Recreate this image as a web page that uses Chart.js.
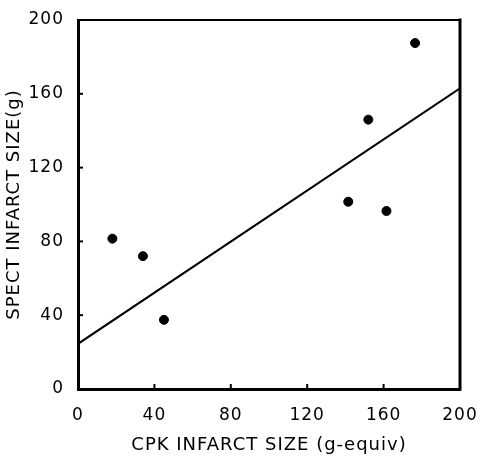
<!DOCTYPE html>
<html>
<head>
<meta charset="utf-8">
<script src="https://cdn.jsdelivr.net/npm/chart.js@4/dist/chart.umd.min.js"></script>
<style>
  html, body { margin: 0; padding: 0; background: #fff; }
  #wrap { width: 480px; height: 457px; position: relative; }
</style>
</head>
<body>
<div id="wrap"><canvas id="c"></canvas></div>
<script>
// Data
const cpkSize   = [18, 34, 45, 141.5, 152, 161.5, 176.5];
const spectSize = [81.5, 72, 37.5, 101.5, 146, 96.5, 187.5];
const fitX = [0, 200];
const fitY = [24.5, 163];
const tickValues = [0, 40, 80, 120, 160, 200];
const xTitle = 'CPK INFARCT SIZE (g-equiv)';
const yTitle = 'SPECT INFARCT SIZE(g)';

const points = cpkSize.map((x, i) => ({ x: x, y: spectSize[i] }));
const fitLine = fitX.map((x, i) => ({ x: x, y: fitY[i] }));

const TICK_FONT = { family: "'DejaVu Sans', sans-serif", size: 17 };
const TITLE_FONT = { family: "'DejaVu Sans', sans-serif", size: 18 };

const spacingPlugin = {
  id: 'spacing',
  beforeLayout(chart) { chart.ctx.letterSpacing = '1px'; },
  beforeDraw(chart) { chart.ctx.letterSpacing = '1px'; }
};

const framePlugin = {
  id: 'frame',
  afterDatasetsDraw(chart) {
    const { ctx, chartArea: a, scales } = chart;
    ctx.save();
    ctx.strokeStyle = '#000';
    ctx.lineCap = 'square';
    ctx.lineWidth = 2;
    ctx.beginPath();
    ctx.moveTo(a.left, a.top);
    ctx.lineTo(a.right, a.top);
    ctx.stroke();
    ctx.lineWidth = 3;
    ctx.beginPath();
    ctx.moveTo(a.right, a.top);
    ctx.lineTo(a.right, a.bottom);
    ctx.stroke();
    ctx.lineWidth = 2;
    ctx.lineCap = 'butt';
    tickValues.slice(1, -1).forEach(v => {
      const px = scales.x.getPixelForValue(v);
      ctx.beginPath();
      ctx.moveTo(px, a.bottom);
      ctx.lineTo(px, a.bottom - 5);
      ctx.stroke();
      const py = scales.y.getPixelForValue(v);
      ctx.beginPath();
      ctx.moveTo(a.left, py);
      ctx.lineTo(a.left + 5, py);
      ctx.stroke();
    });
    ctx.restore();
  }
};

new Chart(document.getElementById('c'), {
  type: 'scatter',
  data: {
    datasets: [
      {
        label: 'patients',
        data: points,
        backgroundColor: '#000',
        borderColor: '#000',
        pointRadius: 4.5,
        pointHoverRadius: 4.5
      },
      {
        label: 'regression',
        data: fitLine,
        showLine: true,
        borderColor: '#000',
        borderWidth: 2,
        pointRadius: 0,
        fill: false
      }
    ]
  },
  plugins: [spacingPlugin, framePlugin],
  options: {
    responsive: true,
    maintainAspectRatio: false,
    animation: false,
    devicePixelRatio: 1,
    layout: { padding: { left: 0, top: 20, right: 20, bottom: 0 } },
    plugins: { legend: { display: false }, tooltip: { enabled: false } },
    scales: {
      x: {
        type: 'linear',
        min: 0, max: 200,
        afterBuildTicks: s => { s.ticks = tickValues.map(v => ({ value: v })); },
        afterFit: s => { s.height = 68; s.paddingLeft = 0; s.paddingRight = 0; },
        grid: { display: false, drawTicks: false },
        border: { display: true, color: '#000', width: 3 },
        ticks: { color: '#000', font: TICK_FONT, padding: 16, maxRotation: 0 },
        title: { display: true, text: xTitle, color: '#000', font: TITLE_FONT, padding: { top: 0, bottom: 1 } }
      },
      y: {
        type: 'linear',
        min: 0, max: 200,
        afterBuildTicks: s => { s.ticks = tickValues.map(v => ({ value: v })); },
        afterFit: s => { s.width = 78; s.paddingTop = 0; s.paddingBottom = 0; },
        grid: { display: false, drawTicks: false },
        border: { display: true, color: '#000', width: 3 },
        ticks: { color: '#000', font: TICK_FONT, padding: 14 },
        title: { display: true, text: yTitle, color: '#000', font: TITLE_FONT, padding: { top: 4, bottom: 0 } }
      }
    }
  }
});
</script>
</body>
</html>
